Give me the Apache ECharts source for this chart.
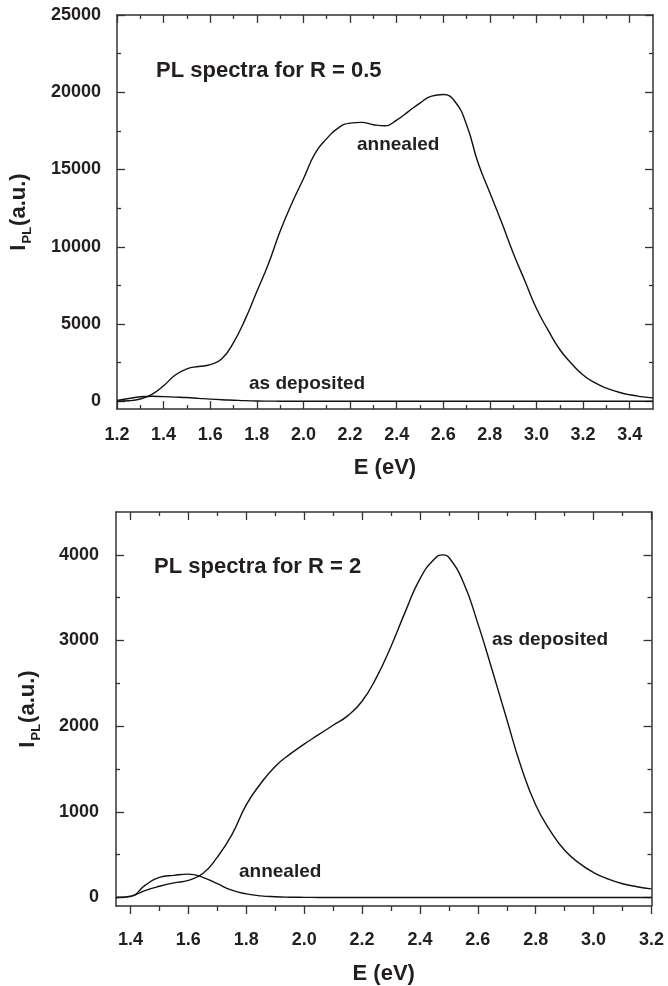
<!DOCTYPE html>
<html>
<head>
<meta charset="utf-8">
<title>PL spectra</title>
<script src="https://cdn.jsdelivr.net/npm/echarts@6/dist/echarts.min.js"></script>
<style>
  html, body { margin: 0; padding: 0; background: #fff; }
  #chart { width: 668px; height: 986px; }
</style>
</head>
<body>
<div id="chart"></div>
<script>
// 上图 R = 0.5
var energyTop = [1.20,1.25,1.30,1.35,1.40,1.45,1.50,1.55,1.60,1.65,1.70,1.75,1.80,1.85,1.90,1.95,
  2.00,2.05,2.10,2.15,2.20,2.25,2.30,2.35,2.40,2.45,2.50,2.55,2.60,2.65,2.70,2.75,2.80,2.85,2.90,2.95,
  3.00,3.05,3.10,3.15,3.20,3.25,3.30,3.35,3.40,3.45,3.50];
var annealedTop = [0,30,150,450,1000,1700,2100,2250,2370,2750,3800,5300,7100,8900,11000,12800,
  14400,16050,17000,17700,18000,18050,17900,17830,18200,18750,19300,19750,19850,19400,17900,15400,13500,11600,9600,7800,
  6000,4600,3350,2450,1700,1200,850,600,420,300,220];
var depositedTop = [60,180,290,325,300,270,240,190,140,100,70,40,20,10,5,2,
  0,0,0,0,0,0,0,0,0,0,0,0,0,0,0,0,0,0,0,0,
  0,0,0,0,0,0,0,0,0,0,0];

// 下图 R = 2
var energyBot = [1.35,1.40,1.45,1.50,1.55,1.60,1.65,1.70,1.75,1.80,1.85,1.90,1.95,
  2.00,2.05,2.10,2.15,2.20,2.25,2.30,2.35,2.40,2.45,2.48,2.50,2.55,2.60,2.65,2.70,2.75,2.80,2.85,2.90,2.95,
  3.00,3.05,3.10,3.15,3.20];
var depositedBot = [0,15,80,130,170,200,280,470,730,1080,1330,1530,1670,
  1790,1900,2010,2120,2290,2570,2930,3340,3720,3950,4000,3970,3680,3200,2650,2080,1520,1080,780,550,400,
  290,215,160,125,100];
var annealedBot = [0,10,140,235,258,272,235,160,85,42,18,8,3,
  1,0,0,0,0,0,0,0,0,0,0,0,0,0,0,0,0,0,0,0,0,
  0,0,0,0,0];

// 刻度
var topTicksX = [1.2,1.4,1.6,1.8,2.0,2.2,2.4,2.6,2.8,3.0,3.2,3.4];
var topMinorX = [1.3,1.5,1.7,1.9,2.1,2.3,2.5,2.7,2.9,3.1,3.3];
var topTicksY = [0,5000,10000,15000,20000,25000];
var topMinorY = [2500,7500,12500,17500,22500];
var botTicksX = [1.4,1.6,1.8,2.0,2.2,2.4,2.6,2.8,3.0,3.2];
var botMinorX = [1.5,1.7,1.9,2.1,2.3,2.5,2.7,2.9,3.1];
var botTicksY = [0,1000,2000,3000,4000];
var botMinorY = [500,1500,2500,3500];

var ink = '#231f20';
var fontFam = '"Liberation Sans", Arial, sans-serif';

function pairs(xs, ys) {
    return xs.map(function (x, i) { return [x, ys[i]]; });
}

// 一个坐标轴（主刻度或次刻度）
function makeAxis(dim, grid, pos, min, max, ticks, len, inside, withLabel, extra) {
    var ax = {
        type: 'value',
        gridIndex: grid,
        position: pos,
        min: min,
        max: max,
        splitLine: { show: false },
        axisLine: { show: withLabel !== null, onZero: false, lineStyle: { color: '#333', width: 1.5 } },
        axisTick: { show: true, customValues: ticks, length: len, inside: inside, lineStyle: { color: '#333', width: 1.3 } },
        axisLabel: { show: false }
    };
    if (withLabel) {
        ax.axisLabel = {
            show: true,
            customValues: ticks,
            color: ink,
            fontFamily: fontFam,
            fontWeight: 'bold',
            fontSize: 18,
            margin: withLabel.margin,
            formatter: withLabel.fmt
        };
    }
    return Object.assign(ax, extra || {});
}

var fmtX = function (v) { return v.toFixed(1); };
var fmtY = function (v) { return String(v); };

var nameStyleX = { color: ink, fontFamily: fontFam, fontWeight: 'bold', fontSize: 22 };
var nameStyleY = {
    color: ink, fontFamily: fontFam, fontWeight: 'bold', fontSize: 22,
    rich: {
        a: { fontFamily: fontFam, fontWeight: 'bold', fontSize: 22, color: ink },
        b: { fontFamily: fontFam, fontWeight: 'bold', fontSize: 13, color: ink, verticalAlign: 'bottom', padding: [0, 1, -4, 1] }
    }
};

var xAxes = [
    makeAxis('x', 0, 'bottom', 1.2, 3.5, topTicksX, 8, true, { margin: 17, fmt: fmtX }, {
        name: 'E (eV)', nameLocation: 'middle', nameGap: 48, nameTextStyle: nameStyleX
    }),
    makeAxis('x', 0, 'bottom', 1.2, 3.5, topMinorX, 4, true, null),
    makeAxis('x', 0, 'top', 1.2, 3.5, topTicksX, 8, true, false),
    makeAxis('x', 0, 'top', 1.2, 3.5, topMinorX, 4, true, null),
    makeAxis('x', 1, 'bottom', 1.35, 3.2, botTicksX, 8, false, { margin: 25, fmt: fmtX }, {
        name: 'E (eV)', nameLocation: 'middle', nameGap: 57, nameTextStyle: nameStyleX
    }),
    makeAxis('x', 1, 'bottom', 1.35, 3.2, botMinorX, 5, false, null),
    makeAxis('x', 1, 'top', 1.35, 3.2, botTicksX, 8, true, false),
    makeAxis('x', 1, 'top', 1.35, 3.2, botMinorX, 4, true, null)
];

var yAxes = [
    makeAxis('y', 0, 'left', -500, 25000, topTicksY, 8, true, { margin: 16, fmt: fmtY }, {
        name: '{a|I}{b|PL}{a|(a.u.)}', nameLocation: 'middle', nameGap: 87, nameTextStyle: nameStyleY
    }),
    makeAxis('y', 0, 'left', -500, 25000, topMinorY, 4, true, null),
    makeAxis('y', 0, 'right', -500, 25000, topTicksY, 8, true, false),
    makeAxis('y', 0, 'right', -500, 25000, topMinorY, 4, true, null),
    makeAxis('y', 1, 'left', -100, 4500, botTicksY, 8, true, { margin: 17, fmt: fmtY }, {
        name: '{a|I}{b|PL}{a|(a.u.)}', nameLocation: 'middle', nameGap: 77, nameTextStyle: nameStyleY
    }),
    makeAxis('y', 1, 'left', -100, 4500, botMinorY, 4, true, null),
    makeAxis('y', 1, 'right', -100, 4500, botTicksY, 8, true, false),
    makeAxis('y', 1, 'right', -100, 4500, botMinorY, 4, true, null)
];

function curve(name, xi, data) {
    return {
        name: name,
        type: 'line',
        xAxisIndex: xi,
        yAxisIndex: xi,
        data: data,
        symbol: 'none',
        smooth: 0.5,
        lineStyle: { color: '#111', width: 1.4 },
        silent: true
    };
}

function label(text, x, y, size) {
    return {
        type: 'text',
        x: x,
        y: y,
        style: {
            text: text,
            fill: ink,
            font: 'bold ' + size + 'px ' + fontFam,
            align: 'left',
            verticalAlign: 'middle'
        }
    };
}

var chart = echarts.init(document.getElementById('chart'));
var option = {
    backgroundColor: '#fff',
    animation: false,
    grid: [
        { left: 117, top: 15, right: 15, bottom: 577, outerBoundsMode: 'none' },
        { left: 116, top: 512, right: 16.5, bottom: 80, outerBoundsMode: 'none' }
    ],
    xAxis: xAxes,
    yAxis: yAxes,
    series: [
        curve('annealed', 0, pairs(energyTop, annealedTop)),
        curve('as deposited', 0, pairs(energyTop, depositedTop)),
        curve('as deposited', 4, pairs(energyBot, depositedBot)),
        curve('annealed', 4, pairs(energyBot, annealedBot))
    ],
    graphic: [
        label('PL spectra for R = 0.5', 156, 71, 22),
        label('annealed', 357, 145, 19),
        label('as deposited', 249, 384, 19),
        label('PL spectra for R = 2', 154, 567, 22),
        label('as deposited', 492, 640, 19),
        label('annealed', 239, 872, 19)
    ]
};
chart.setOption(option);
console.log('chart initialized.');
</script>
</body>
</html>
